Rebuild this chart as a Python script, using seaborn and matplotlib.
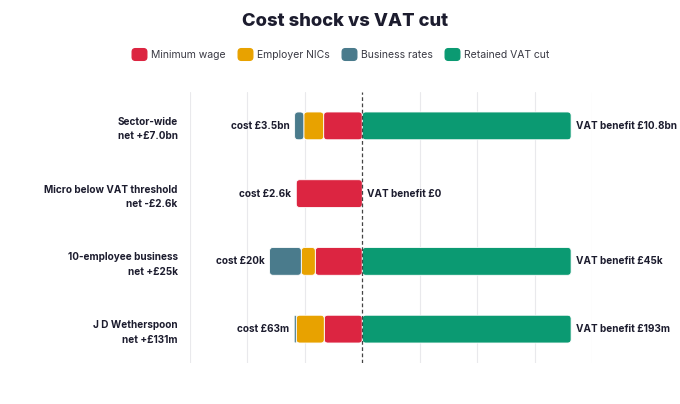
import numpy as np
import pandas as pd
import seaborn as sns
import matplotlib.pyplot as plt
import matplotlib.colors as mcolors
from matplotlib.patches import FancyBboxPatch, BoxStyle
from matplotlib.lines import Line2D

rows = ["Sector-wide", "Micro below VAT threshold", "10-employee business", "J D Wetherspoon"]
net_labels = ["net +£7.0bn", "net -£2.6k", "net +£25k", "net +£131m"]
cost_labels = ["cost £3.5bn", "cost £2.6k", "cost £20k", "cost £63m"]
vat_labels = ["VAT benefit £10.8bn", "VAT benefit £0", "VAT benefit £45k", "VAT benefit £193m"]

# bar lengths as a share of the full-length VAT bar
min_wage = [0.185, 0.316, 0.225, 0.182]
employer_nics = [0.095, 0.0, 0.067, 0.134]
business_rates = [0.044, 0.0, 0.152, 0.010]
vat_cut = [1.0, 0.0, 1.0, 1.0]

components = ["Minimum wage", "Employer NICs", "Business rates", "Retained VAT cut"]
colors = ["#DC2541", "#E8A200", "#4A7B8C", "#0B9A72"]
TEXT = "#1c1c2e"

# cost pieces stack leftwards from zero: min wage, then NICs, then rates
cost = np.array([min_wage, employer_nics, business_rates])
outer = -np.cumsum(cost, axis=0)
inner = np.vstack([np.zeros(len(rows)), outer[:-1]])

recs = []
for k, comp in enumerate(components[:3]):
    for i, r in enumerate(rows):
        recs.append(dict(row=r, component=comp, start=inner[k, i], end=outer[k, i]))
for i, r in enumerate(rows):
    recs.append(dict(row=r, component=components[3], start=0.0, end=vat_cut[i]))
df = pd.DataFrame(recs)

sns.set_theme(style="white")
plt.rcParams["font.family"] = ["Inter", "DejaVu Sans"]

fig = plt.figure(figsize=(6.8, 4.04), dpi=100)
ax = fig.add_axes([190 / 680, 41 / 404, 402 / 680, 271 / 404])

sns.barplot(data=df, x="end", y="row", hue="component", hue_order=components,
            order=rows, palette=colors, dodge=False, width=0.41, orient="h",
            saturation=1, errorbar=None, legend=False, ax=ax)

xmin, xmax = -0.825, 1.1
ax.set_xlim(xmin, xmax)
ax.set_ylim(len(rows) - 0.5, -0.5)

# swap seaborn's rectangles for rounded ones, one per stacked segment
px_x = 402 / (xmax - xmin)
px_y = 271 / len(rows)
aspect = px_x / px_y
rad = 3.5 / px_x
lookup = df.set_index(["component", "row"])
hex_to_comp = {mcolors.to_hex(c).lower(): comp for c, comp in zip(colors, components)}
for bar in list(ax.patches):
    comp = hex_to_comp.get(mcolors.to_hex(bar.get_facecolor()).lower())
    if comp is None:
        continue
    y0, h = bar.get_y(), bar.get_height()
    i = int(round(y0 + h / 2))
    bar.remove()
    rec = lookup.loc[(comp, rows[i])]
    lo, hi = sorted([rec.start, rec.end])
    w = hi - lo
    if w <= 1e-9:
        continue
    r = min(rad, w / 2)
    ax.add_patch(FancyBboxPatch((lo, y0), w, h,
                                boxstyle=f"round,pad=0,rounding_size={r}",
                                mutation_aspect=aspect,
                                fc=colors[components.index(comp)],
                                ec="white", lw=0.6, zorder=2))

# gridlines and the dashed zero line
ticks = [t for t in np.linspace(xmin, xmax, 8) if abs(t) > 1e-9]
ax.set_xticks(ticks)
ax.xaxis.grid(True, color="#e9e9ec", lw=0.8)
ax.set_axisbelow(True)
ax.axvline(0, color="#444444", lw=0.9, ls=(0, (3, 2)), zorder=5)
ax.tick_params(axis="x", labelbottom=False, length=0)
for s in ax.spines.values():
    s.set_visible(False)

ax.set_xlabel("")
ax.set_ylabel("")
ax.set_yticks(range(len(rows)))
ax.set_yticklabels([f"{r}\n{n}" for r, n in zip(rows, net_labels)],
                   fontsize=7.2, fontweight="bold", color=TEXT, linespacing=1.55)
ax.tick_params(axis="y", length=0, pad=9)

for i in range(len(rows)):
    ax.annotate(cost_labels[i], (outer[-1, i], i), xytext=(-5, 0), textcoords="offset pixels",
                ha="right", va="center", fontsize=7.2, fontweight="bold", color=TEXT, zorder=6)
    ax.annotate(vat_labels[i], (vat_cut[i], i), xytext=(5, 0), textcoords="offset pixels",
                ha="left", va="center", fontsize=7.2, fontweight="bold", color=TEXT, zorder=6)

fig.text(345 / 680, 1 - 22 / 404, "Cost shock vs VAT cut", ha="center", va="center",
         fontsize=13.2, fontweight="heavy", color=TEXT)

# rounded-rectangle legend swatches
swatch = BoxStyle.Round(pad=0, rounding_size=0.22)(-0.5, -0.4, 1.0, 0.8, 1.0)
handles = [Line2D([], [], marker=swatch, ls="", markersize=10.5, mfc=c, mec=c) for c in colors]
fig.legend(handles, components, loc="center", bbox_to_anchor=(341 / 680, 1 - 55 / 404), ncol=4,
           frameon=False, fontsize=7.5, handletextpad=0.45, columnspacing=1.25,
           handlelength=1.3, labelcolor="#3a3a44")

fig.savefig("out.png", dpi=100, facecolor="white")
